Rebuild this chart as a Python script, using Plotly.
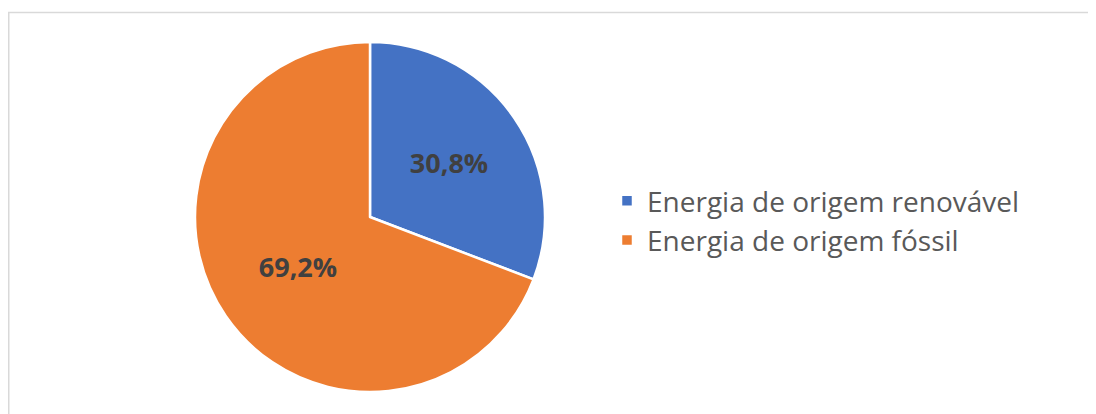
import plotly.graph_objects as go

# energy share by origin
categories = ["Energia de origem renovável", "Energia de origem fóssil"]
shares = [30.8, 69.2]
slice_colors = ["#4472C4", "#ED7D31"]
pct_labels = ["30,8%", "69,2%"]

OFF = 8  # page body margin shifts the figure by 8px
W, H = 1096 - OFF, 414 - OFF

fig = go.Figure(go.Pie(
    labels=categories,
    values=shares,
    text=pct_labels,
    textinfo="text",
    textposition="inside",
    insidetextorientation="horizontal",
    insidetextfont=dict(family="Open Sans", size=27, color="#404040", weight="bold"),
    marker=dict(colors=slice_colors, line=dict(color="white", width=2.5)),
    sort=False,
    direction="clockwise",
    rotation=0,
    domain=dict(x=[(195 - OFF) / W, (545 - OFF) / W],
                y=[1 - (392 - OFF) / H, 1 - (42 - OFF) / H]),
    hoverinfo="label+percent",
))

fig.update_layout(
    width=W, height=H,
    margin=dict(l=0, r=0, t=0, b=0),
    paper_bgcolor="white",
    plot_bgcolor="white",
    showlegend=True,
    legend=dict(
        x=599 / W, y=1 - 212.5 / H, xanchor="left", yanchor="middle",
        font=dict(family="Open Sans", size=28, color="#595959"),
        bgcolor="rgba(0,0,0,0)",
    ),
    # thin grey chart border, cut by the window at right/bottom
    shapes=[dict(type="rect", xref="paper", yref="paper",
                 x0=0.75 / W, x1=1.05, y0=-0.05, y1=1 - 4.5 / H,
                 line=dict(color="#D9D9D9", width=1.5))],
)

fig.write_html("out.html")
